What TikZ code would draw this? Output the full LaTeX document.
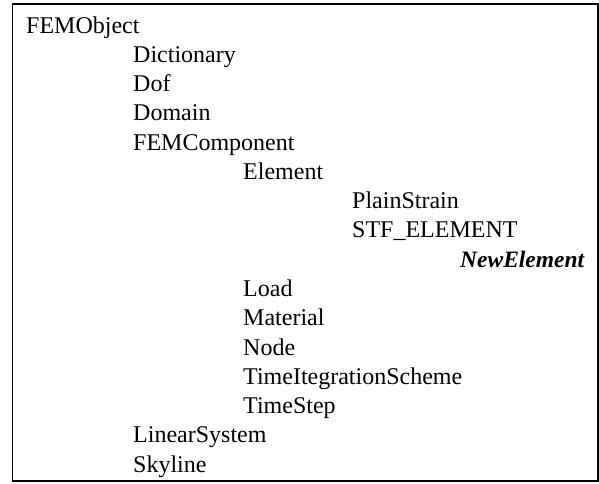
\documentclass[tikz,border=0pt]{standalone}
\usepackage{fontspec}
\setmainfont{Liberation Serif}
\usepackage{tikz}

\tikzset{cls/.style={anchor=base west,inner sep=0pt,font=\fontsize{24}{28}\selectfont}}

\begin{document}
\begin{tikzpicture}[x=1pt,y=-1pt]

			\useasboundingbox (0,0) rectangle (599,483);
			\draw[line width=1.2pt] (12.5,4) rectangle (598,481);

			\node[cls] (femobject) at (26,33) {FEMObject};
			\node[cls] (dictionary) at (133,62.3) {Dictionary};
			\node[cls] (dof) at (133,91.5) {Dof};
			\node[cls] (domain) at (133,120.8) {Domain};
			\node[cls] (femcomponent) at (133,150.1) {FEMComponent};
			\node[cls] (element) at (243,179.4) {Element};
			\node[cls] (plainstrain) at (352,208.6) {PlainStrain};
			\node[cls] (stfelement) at (352,237.9) {STF\_ELEMENT};
			\node[cls,font=\fontsize{23.5}{28}\selectfont\bfseries\itshape] (newelement) at (460,267.2) {NewElement};
			\node[cls] (load) at (243,296.4) {Load};
			\node[cls] (material) at (243,325.7) {Material};
			\node[cls] (node) at (243,355) {Node};
			\node[cls] (timeint) at (243,384.2) {TimeItegrationScheme};
			\node[cls] (timestep) at (243,413.5) {TimeStep};
			\node[cls] (linearsystem) at (133,442.8) {LinearSystem};
			\node[cls] (skyline) at (133,472) {Skyline};

		\end{tikzpicture}
\end{document}
